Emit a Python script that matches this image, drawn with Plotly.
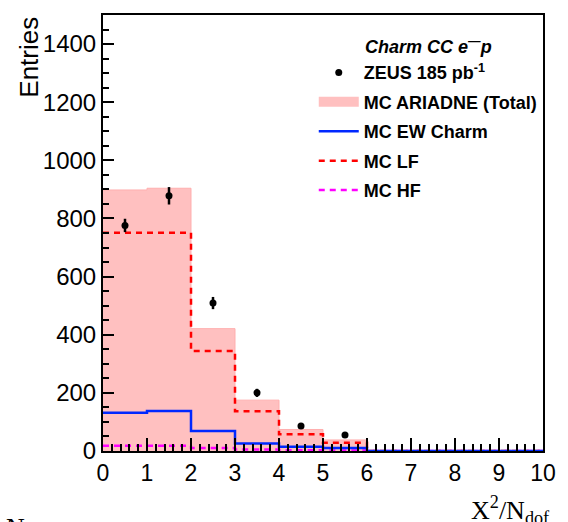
import plotly.graph_objects as go

bin_edges = [0, 1, 2, 3, 4, 5, 6, 7, 8, 9, 10]
bin_centers = [0.5, 1.5, 2.5, 3.5, 4.5, 5.5]
data_vals = [776, 878, 509, 200, 86, 55]
data_errs = [23, 30, 21, 14, 9, 7]
mc_total = [898, 904, 421, 175, 74, 38, 0, 0, 0, 0]
mc_lf = [751, 751, 344, 137, 58, 28, 0, 0, 0, 0]
mc_ew = [132, 138, 69, 26, 15, 10, 0, 0, 0, 0]
mc_hf = [18, 18, 10, 5, 3, 2, 0, 0, 0, 0]

def step(vals):
    return bin_edges, list(vals) + [vals[-1]]

FONT = "Liberation Sans, Arial, sans-serif"
SERIF = "Liberation Serif, Times New Roman, serif"
PINK = "rgb(255,192,192)"

fig = go.Figure()
x, y = step(mc_total)
fig.add_trace(go.Scatter(x=x, y=y, mode="lines", line=dict(shape="hv", color="rgb(255,175,175)", width=1),
                         fill="tozeroy", fillcolor=PINK, showlegend=False, hoverinfo="skip"))
# legend entry for the filled total histogram (wide pink box)
fig.add_trace(go.Scatter(x=[None], y=[None], mode="lines", line=dict(color=PINK, width=19),
                         name="<b>MC ARIADNE (Total)</b>", legendrank=2, legendgroup="a"))
x, y = step(mc_hf)
fig.add_trace(go.Scatter(x=x, y=y, mode="lines", line=dict(shape="hv", color="rgb(255,0,255)", width=2.5, dash="6px,5px"),
                         name="<b>MC HF</b>", legendrank=5, legendgroup="d"))
x, y = step(mc_lf)
fig.add_trace(go.Scatter(x=x, y=y, mode="lines", line=dict(shape="hv", color="rgb(255,0,0)", width=2.5, dash="6px,5px"),
                         name="<b>MC LF</b>", legendrank=4, legendgroup="c"))
x, y = step(mc_ew)
fig.add_trace(go.Scatter(x=x, y=y, mode="lines", line=dict(shape="hv", color="rgb(0,40,255)", width=2.5),
                         name="<b>MC EW Charm</b>", legendrank=3, legendgroup="b"))
fig.add_trace(go.Scatter(x=bin_centers, y=data_vals, mode="markers",
                         marker=dict(color="black", size=7),
                         error_y=dict(type="data", array=data_errs, color="black", thickness=2.5, width=0),
                         name="<b>ZEUS 185 pb<sup>-1</sup></b>", legendrank=1, legendgroup="0"))

axis_common = dict(showline=True, linecolor="black", linewidth=2, mirror=True, ticks="inside",
                   tickcolor="black", tickwidth=2, showgrid=False, zeroline=False)
fig.update_xaxes(range=[0, 10], dtick=1, ticklen=13,
                 tickfont=dict(family=FONT, size=23, color="black"),
                 minor=dict(dtick=0.2, ticks="inside", ticklen=7, tickcolor="black", tickwidth=2, showgrid=False),
                 **axis_common)
fig.update_yaxes(range=[0, 1500], dtick=200, ticklen=11,
                 tickfont=dict(family=FONT, size=24, color="black"),
                 minor=dict(dtick=50, ticks="inside", ticklen=6, tickcolor="black", tickwidth=2, showgrid=False),
                 **axis_common)

fig.update_layout(
    width=568, height=522,
    margin=dict(l=103, r=17, t=15, b=71),
    paper_bgcolor="white", plot_bgcolor="white",
    showlegend=True,
    legend=dict(x=0.479, y=0.91, xanchor="left", yanchor="top", bgcolor="rgba(0,0,0,0)",
                font=dict(family=FONT, size=18, color="black"), tracegroupgap=3,
                itemwidth=40),
    annotations=[
        dict(text="<b><i>Charm CC e<sup>\u2014</sup>p</i></b>", xref="paper", yref="paper", x=0.59, y=0.962,
             xanchor="left", yanchor="top", showarrow=False, font=dict(family=FONT, size=18, color="black")),
        dict(text="Entries", xref="paper", yref="paper", x=-0.17, y=1.0, textangle=-90,
             xanchor="center", yanchor="top", showarrow=False, font=dict(family=FONT, size=26, color="black")),
        dict(text="X<sup>2</sup>/N<sub>dof</sub>", xref="paper", yref="paper", x=1.021, y=-0.089,
             xanchor="right", yanchor="top", showarrow=False, font=dict(family=SERIF, size=26, color="black")),
        dict(text="N", xref="paper", yref="paper", x=-0.226, y=-0.138,
             xanchor="left", yanchor="top", showarrow=False, font=dict(family=SERIF, size=26, color="black")),
    ],
)

fig.write_html("out.html")
